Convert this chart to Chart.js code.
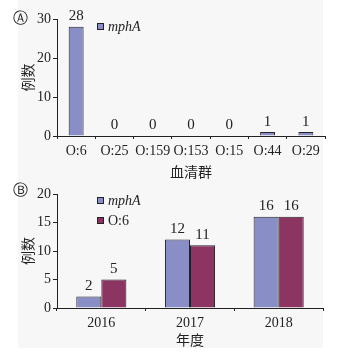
<!DOCTYPE html>
<html>
<head>
<meta charset="utf-8">
<script src="https://cdn.jsdelivr.net/npm/chart.js@4"></script>
<style>
  html, body { margin: 0; padding: 0; background: #fff; }
  #wrap { position: relative; width: 340px; height: 354px; }
  #panel { position: absolute; left: 18px; top: 0; width: 305px; height: 348px; background: #f7f7f7; }
  #boxA { position: absolute; left: 0; top: 0; width: 340px; height: 180px; }
  #boxB { position: absolute; left: 0; top: 178px; width: 340px; height: 176px; }
</style>
</head>
<body>
<div id="wrap">
  <div id="panel"></div>
  <div id="boxA"><canvas id="serotype"></canvas></div>
  <div id="boxB"><canvas id="yearly"></canvas></div>
</div>
<script>
// panel A
const serotypes = ['O:6', 'O:25', 'O:159', 'O:153', 'O:15', 'O:44', 'O:29'];
const mphASerotype = [28, 0, 0, 0, 0, 1, 1];
const ticksA = [0, 5, 10, 15, 20, 25, 30];
// panel B
const years = ['2016', '2017', '2018'];
const mphAYear = [2, 12, 16];
const o6Year = [5, 11, 16];
const ticksB = [0, 5, 10, 15, 20];

const BLUE = '#8a8ec6';
const RED = '#8c3562';
const INK = '#222';
const serif = "'Liberation Serif', 'Times New Roman', serif";
const cjk = "'Noto Sans CJK SC', sans-serif";

Chart.defaults.animation = false;
Chart.defaults.color = INK;

// values over the bars, legend boxes and the circled letter
function makeDecor(letter, letterY, legendY) {
  return {
    id: 'decor',
    afterDatasetsDraw: (chart) => {
      const { ctx } = chart;
      ctx.save();
      ctx.font = '15px ' + serif;
      ctx.fillStyle = INK;
      ctx.textAlign = 'center';
      ctx.textBaseline = 'bottom';
      chart.data.datasets.forEach((ds, i) => {
        chart.getDatasetMeta(i).data.forEach((bar, j) => {
          ctx.fillText(ds.data[j], bar.x, bar.y - 3);
        });
      });
      // legend
      chart.data.datasets.forEach((ds, i) => {
        const y = legendY + i * 20;
        ctx.fillStyle = ds.backgroundColor;
        ctx.fillRect(97, y, 7, 7);
        ctx.strokeStyle = INK;
        ctx.lineWidth = 1;
        ctx.strokeRect(97.5, y + 0.5, 6, 6);
        ctx.fillStyle = INK;
        ctx.textAlign = 'left';
        ctx.textBaseline = 'middle';
        ctx.font = (ds.label === 'mphA' ? 'italic ' : '') + '14px ' + serif;
        ctx.fillText(ds.label, 108, y + 4);
      });
      ctx.font = '15px "DejaVu Sans", sans-serif';
      ctx.textAlign = 'center';
      ctx.textBaseline = 'middle';
      ctx.fillText(letter, 20, letterY);
      ctx.restore();
    }
  };
}

function axes(yMax, stepSize, xHeight, xTitle, xTitlePad) {
  return {
    x: {
      grid: { drawOnChartArea: false, tickLength: 3, color: INK, offset: true },
      border: { color: INK, width: 1 },
      ticks: { font: { family: serif, size: 14 }, color: INK, padding: 4, maxRotation: 0, autoSkip: false },
      title: { display: true, text: xTitle, font: { family: cjk, size: 14 }, color: INK, padding: { top: 0, bottom: xTitlePad } },
      afterFit: (axis) => {
        axis.height = xHeight;
        axis.paddingLeft = 0;
        axis.paddingRight = 0;
      }
    },
    y: {
      min: 0, max: yMax,
      grid: { drawOnChartArea: false, tickLength: 4, color: INK },
      border: { color: INK, width: 1 },
      ticks: { stepSize: stepSize, font: { family: serif, size: 14 }, color: INK, padding: 2 },
      title: { display: true, text: '例数', font: { family: cjk, size: 14 }, color: INK, padding: { top: 19, bottom: 0 } },
      afterFit: (axis) => {
        axis.width = 57;
        axis.paddingTop = 0;
        axis.paddingBottom = 0;
      }
    }
  };
}

new Chart(document.getElementById('serotype'), {
  type: 'bar',
  data: {
    labels: serotypes,
    datasets: [{
      label: 'mphA',
      data: mphASerotype,
      backgroundColor: BLUE,
      borderColor: INK,
      borderWidth: 1,
      categoryPercentage: 0.39,
      barPercentage: 1
    }]
  },
  options: {
    responsive: true,
    maintainAspectRatio: false,
    layout: { padding: { top: 19, right: 15, left: 0, bottom: 0 } },
    plugins: { legend: { display: false }, tooltip: { enabled: false } },
    scales: axes(ticksA[ticksA.length - 1], ticksA[1] - ticksA[0], 44, '血清群', 0)
  },
  plugins: [makeDecor('Ⓐ', 19, 23)]
});

new Chart(document.getElementById('yearly'), {
  type: 'bar',
  data: {
    labels: years,
    datasets: [
      { label: 'mphA', data: mphAYear, backgroundColor: BLUE, borderColor: INK, borderWidth: 1, categoryPercentage: 0.565, barPercentage: 1 },
      { label: 'O:6', data: o6Year, backgroundColor: RED, borderColor: INK, borderWidth: 1, categoryPercentage: 0.565, barPercentage: 1 }
    ]
  },
  options: {
    responsive: true,
    maintainAspectRatio: false,
    layout: { padding: { top: 16, right: 17, left: 0, bottom: 0 } },
    plugins: { legend: { display: false }, tooltip: { enabled: false } },
    scales: axes(ticksB[ticksB.length - 1], ticksB[1] - ticksB[0], 46, '年度', 6)
  },
  plugins: [makeDecor('Ⓑ', 13, 19)]
});
</script>
</body>
</html>
